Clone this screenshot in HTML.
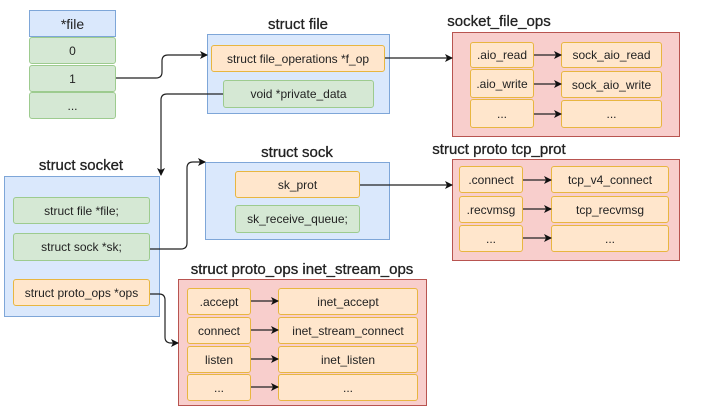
<!DOCTYPE html>
<html><head><meta charset="utf-8"><style>
body{margin:0;width:701px;height:420px;background:#fff;position:relative;overflow:hidden;font-family:"Liberation Sans",sans-serif;color:#222}
.b{position:absolute;box-sizing:border-box;display:flex;align-items:center;justify-content:center;font-size:12px;white-space:nowrap}
.blue{background:#dae8fc;border:1px solid #7ea6d8}
.red{background:#f8cecc;border:1px solid #b85450}
.g{background:#d5e8d4;border:1px solid #9dcb8f;border-radius:3px}
.o{background:#ffe6cc;border:1px solid #e8b640;border-radius:3px}
.t{position:absolute;font-size:15px;transform:translateX(-50%);white-space:nowrap;-webkit-text-stroke:0.3px #222}
svg{position:absolute;left:0;top:0}
</style></head><body>
<div class="b blue" style="left:29px;top:10px;width:87px;height:27px;font-size:14px">*file</div>
<div class="b g" style="left:29px;top:37px;width:87px;height:27px">0</div>
<div class="b g" style="left:29px;top:65px;width:87px;height:27px">1</div>
<div class="b g" style="left:29px;top:92px;width:87px;height:27px">...</div>

<div class="t" style="left:298px;top:16px">struct file</div>
<div class="b blue" style="left:207px;top:34px;width:183px;height:80px"></div>
<div class="b o" style="left:211px;top:45px;width:174px;height:27px">struct file_operations *f_op</div>
<div class="b g" style="left:223px;top:80px;width:151px;height:28px">void *private_data</div>

<div class="t" style="left:499px;top:13px">socket_file_ops</div>
<div class="b red" style="left:452px;top:32px;width:228px;height:105px"></div>
<div class="b o" style="left:470px;top:42px;width:64px;height:26px">.aio_read</div>
<div class="b o" style="left:470px;top:69px;width:64px;height:29px">.aio_write</div>
<div class="b o" style="left:470px;top:99px;width:64px;height:29px">...</div>
<div class="b o" style="left:561px;top:42px;width:101px;height:26px">sock_aio_read</div>
<div class="b o" style="left:561px;top:71px;width:101px;height:27px">sock_aio_write</div>
<div class="b o" style="left:561px;top:100px;width:101px;height:28px">...</div>

<div class="t" style="left:81px;top:157px">struct socket</div>
<div class="b blue" style="left:4px;top:176px;width:156px;height:141px"></div>
<div class="b g" style="left:13px;top:197px;width:137px;height:27px">struct file *file;</div>
<div class="b g" style="left:13px;top:233px;width:137px;height:28px">struct sock *sk;</div>
<div class="b o" style="left:13px;top:279px;width:137px;height:27px">struct proto_ops *ops</div>

<div class="t" style="left:297px;top:144px">struct sock</div>
<div class="b blue" style="left:205px;top:162px;width:185px;height:78px"></div>
<div class="b o" style="left:235px;top:171px;width:125px;height:27px">sk_prot</div>
<div class="b g" style="left:235px;top:205px;width:125px;height:28px">sk_receive_queue;</div>

<div class="t" style="left:499px;top:141px">struct proto tcp_prot</div>
<div class="b red" style="left:452px;top:159px;width:228px;height:102px"></div>
<div class="b o" style="left:459px;top:166px;width:64px;height:27px">.connect</div>
<div class="b o" style="left:459px;top:196px;width:64px;height:27px">.recvmsg</div>
<div class="b o" style="left:459px;top:225px;width:64px;height:27px">...</div>
<div class="b o" style="left:551px;top:166px;width:118px;height:27px">tcp_v4_connect</div>
<div class="b o" style="left:551px;top:196px;width:118px;height:27px">tcp_recvmsg</div>
<div class="b o" style="left:551px;top:225px;width:118px;height:27px">...</div>

<div class="t" style="left:302px;top:261px">struct proto_ops inet_stream_ops</div>
<div class="b red" style="left:178px;top:279px;width:249px;height:127px"></div>
<div class="b o" style="left:187px;top:288px;width:64px;height:27px">.accept</div>
<div class="b o" style="left:187px;top:317px;width:64px;height:27px">connect</div>
<div class="b o" style="left:187px;top:346px;width:64px;height:27px">listen</div>
<div class="b o" style="left:187px;top:374px;width:64px;height:27px">...</div>
<div class="b o" style="left:278px;top:288px;width:140px;height:27px">inet_accept</div>
<div class="b o" style="left:278px;top:317px;width:140px;height:27px">inet_stream_connect</div>
<div class="b o" style="left:278px;top:346px;width:140px;height:27px">inet_listen</div>
<div class="b o" style="left:278px;top:374px;width:140px;height:27px">...</div>

<svg width="701" height="420" viewBox="0 0 701 420">
<defs><marker id="a" markerWidth="8" markerHeight="8" refX="7" refY="4" orient="auto" markerUnits="userSpaceOnUse"><path d="M0,0 L8,4 L0,8 L2,4z" fill="#111"/></marker></defs>
<g fill="none" stroke="#222" stroke-width="1.2" marker-end="url(#a)">
<path d="M116,78 H156 Q162,78 162,72 V61 Q162,55 168,55 H207"/>
<path d="M223,94 H167 Q161,94 161,100 V175"/>
<path d="M150,249 H181 Q187,249 187,243 V168 Q187,162 193,162 H205"/>
<path d="M150,294 H159 Q165,294 165,300 V337 Q165,343 171,343 H178"/>
<path d="M385,58 H452"/>
<path d="M360,185 H452"/>
<path d="M534,55 H561"/><path d="M534,84 H561"/><path d="M534,114 H561"/>
<path d="M523,180 H551"/><path d="M523,209 H551"/><path d="M523,238 H551"/>
<path d="M251,301 H278"/><path d="M251,330 H278"/><path d="M251,359 H278"/><path d="M251,387 H278"/>
</g></svg>
</body></html>
